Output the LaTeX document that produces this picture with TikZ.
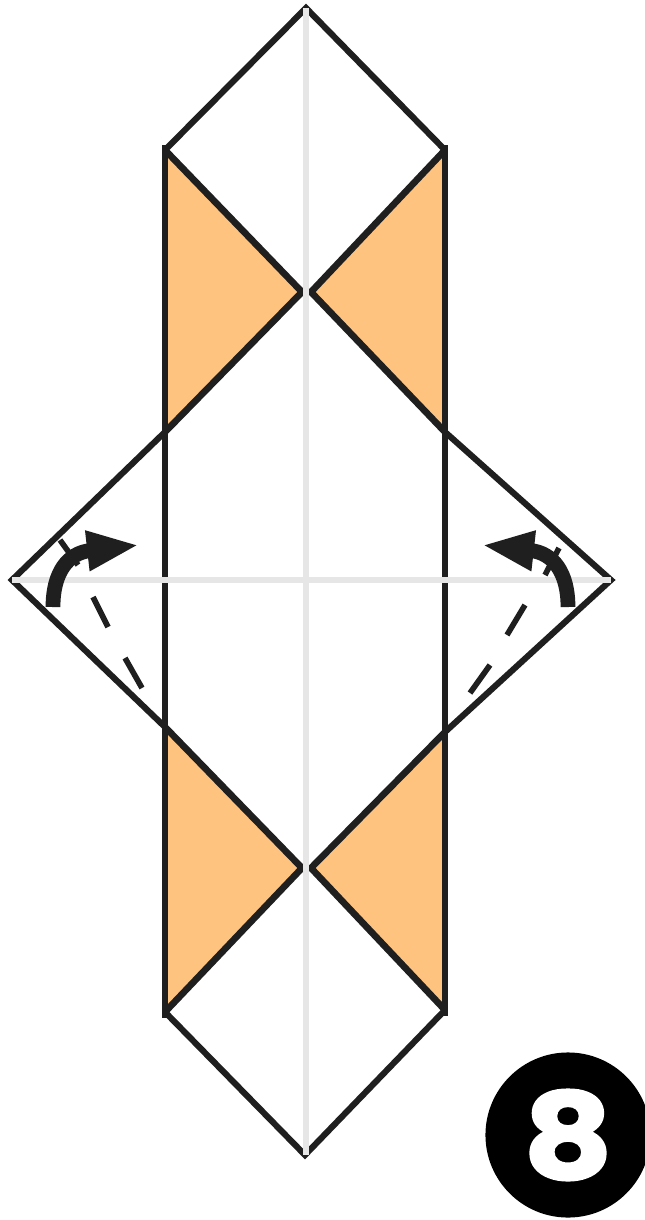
\documentclass[tikz,border=0pt]{standalone}
\usepackage{fontspec}
\usepackage{xcolor}
\usetikzlibrary{arrows.meta}
\newfontface\badgefont{Poppins Bold}[FakeBold=2,FakeStretch=1.16]
\definecolor{flap}{HTML}{FFC380}
\definecolor{crease}{HTML}{E6E6E6}
\tikzset{
edge/.style={line width=1.75pt,line join=miter,color=black!88},
crease line/.style={line width=1.6pt,crease},
fold/.style={line width=1.6pt,color=black!88},
turn/.style={line width=4.2pt,color=black!88,-{Triangle[length=0.52cm,width=0.37cm]}}
}
\begin{document}
\begin{tikzpicture}[x=0.01cm,y=-0.01cm]
\useasboundingbox (0,0) rectangle (644,1220);
\fill[white](0,0) rectangle (644,1220);
\fill[flap](165,150)--(302,292)--(165,432)--cycle;
\fill[flap](445,150)--(311,292)--(445,432)--cycle;
\fill[flap](165,727)--(302,868)--(165,1012)--cycle;
\fill[flap](445,732)--(311,868)--(445,1010)--cycle;
\draw[edge](165,150)--(306,8)--(445,150);
\draw[edge](165,432)--(12,580)--(165,727);
\draw[edge](445,432)--(611,580)--(445,732);
\draw[edge](165,1012)--(305,1155)--(445,1010);
\draw[edge,line width=1.9pt](165,145)--(165,1018);
\draw[edge,line width=1.9pt](445,145)--(445,1016);
\draw[edge,line width=1.9pt](165,150)--(302,292)--(165,432);
\draw[edge,line width=1.9pt](445,150)--(311,292)--(445,432);
\draw[edge,line width=1.9pt](165,727)--(302,868)--(165,1012);
\draw[edge,line width=1.9pt](445,732)--(311,868)--(445,1010);
\draw[crease line](306,8)--(306,1155);
\draw[crease line](12,580)--(611,580);
% left flap
\draw[fold](60,540)--(78,565);
\draw[fold](93,597)--(108,627);
\draw[fold](125,658)--(142,688);
\draw[turn](53,607) .. controls (53,572) and (68,553) .. (139,545);
% right flap
\draw[fold](559,548)--(545,575);
\draw[fold](525,605)--(507,635);
\draw[fold](490,665)--(470,693);
\draw[turn](568,607) .. controls (568,572) and (553,553) .. (482,545);
\node (badge) at (568,1135) [circle,fill=black,inner sep=0pt,minimum size=1.65cm,text=white,
  font=\badgefont\fontsize{34pt}{34pt}\selectfont] {8};
\end{tikzpicture}
\end{document}
